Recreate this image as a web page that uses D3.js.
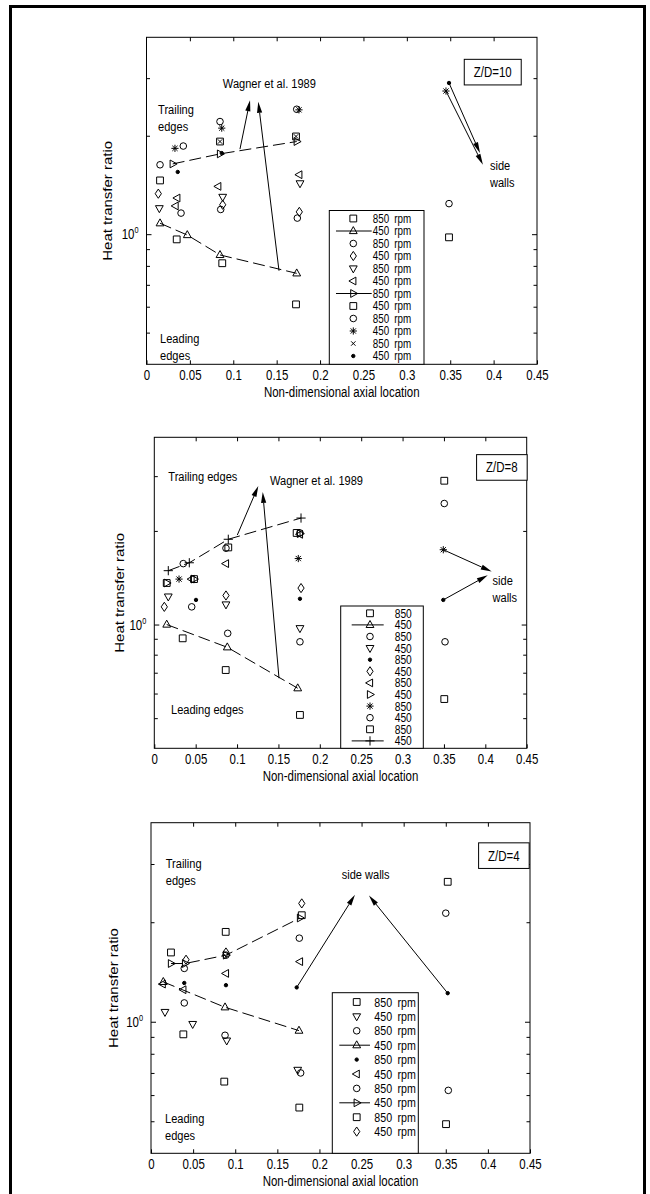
<!DOCTYPE html>
<html>
<head>
<meta charset="utf-8">
<script src="https://cdn.jsdelivr.net/npm/d3@7"></script>
<style>
  body { margin: 0; background: #fff; }
  text { font-family: "Liberation Sans", Arial, sans-serif; fill: #000; }
</style>
</head>
<body>
<svg width="650" height="1194"></svg>
<script>
// shared axis ticks
const xTicks = [0, 0.05, 0.1, 0.15, 0.2, 0.25, 0.3, 0.35, 0.4, 0.45];
const yMinorTicks = [0.5, 0.6, 0.7, 0.8, 0.9, 2, 3];

// ---- Z/D = 10 ----
const zd10Symbols = ["square", "triangle-up", "circle", "diamond", "triangle-down", "triangle-left",
                     "triangle-right", "square", "circle", "star", "cross", "point"];
const zd10Labels = ["850 rpm", "450 rpm", "850 rpm", "450 rpm", "850 rpm", "450 rpm",
                    "850 rpm", "450 rpm", "850 rpm", "450 rpm", "850 rpm", "450 rpm"];
const zd10Dashed = [false, true, false, false, false, false, true, false, false, false, false, false];
const zd10Values = [
  [[0.0348, 0.964], [0.0873, 0.815], [0.1723, 0.61], [0.3486, 0.978]],
  [[0.0156, 1.08], [0.047, 0.994], [0.0847, 0.864], [0.1731, 0.759]],
  [[0.0398, 1.16], [0.0855, 1.19], [0.1738, 1.12], [0.3486, 1.24]],
  [[0.0136, 1.33], [0.0878, 1.23], [0.1761, 1.17]],
  [[0.0148, 1.2], [0.0878, 1.3], [0.1769, 1.43]],
  [[0.0355, 1.29], [0.0335, 1.22], [0.0827, 1.40], [0.1761, 1.52]],
  [[0.0302, 1.64], [0.0847, 1.76], [0.1731, 1.92]],
  [[0.0156, 1.46], [0.0847, 1.92], [0.1723, 1.99]],
  [[0.0156, 1.63], [0.0424, 1.86], [0.0847, 2.21], [0.1731, 2.41]],
  [[0.0328, 1.83], [0.0867, 2.11], [0.1757, 2.40], [0.3451, 2.74]],
  [[0.0847, 1.92], [0.1723, 1.99]],
  [[0.036, 1.55], [0.0867, 1.77], [0.3486, 2.9]]
];
const zd10Notes = [
  { lines: ["Trailing", "edges"], at: [0.0133, 2.33] },
  { lines: ["Wagner et al. 1989"], at: [0.088, 2.8] },
  { lines: ["Leading", "edges"], at: [0.0156, 0.465] },
  { lines: ["side", "walls"], at: [0.3958, 1.57] }
];
const zd10Arrows = [
  [[0.1077, 1.82], [0.1193, 2.57]],
  [[0.1527, 0.773], [0.1288, 2.54]],
  [[0.3486, 2.9], [0.3843, 1.77]],
  [[0.3451, 2.74], [0.3877, 1.63]]
];

// ---- Z/D = 8 ----
const zd8Symbols = ["square", "triangle-up", "circle", "triangle-down", "point", "diamond",
                    "triangle-left", "triangle-right", "star", "circle", "square", "plus"];
const zd8Labels = ["850", "450", "850", "450", "850", "450", "850", "450", "850", "450", "850", "450"];
const zd8Dashed = [false, true, false, false, false, false, false, false, false, false, false, true];
const zd8Values = [
  [[0.0343, 0.903], [0.0863, 0.714], [0.176, 0.512], [0.3504, 0.576]],
  [[0.015, 1.0], [0.0882, 0.845], [0.1733, 0.624]],
  [[0.0452, 1.14], [0.0887, 0.937], [0.176, 0.88], [0.3513, 0.88]],
  [[0.0169, 1.23], [0.0866, 1.16], [0.176, 0.973]],
  [[0.0504, 1.2], [0.176, 1.21], [0.3492, 1.2]],
  [[0.0121, 1.14], [0.0866, 1.24], [0.1773, 1.31]],
  [[0.045, 1.40], [0.0866, 1.57], [0.176, 1.95]],
  [[0.015, 1.36], [0.048, 1.40], [0.176, 1.96]],
  [[0.0299, 1.40], [0.174, 1.63], [0.3492, 1.74]],
  [[0.035, 1.57], [0.0866, 1.76], [0.176, 1.97], [0.3504, 2.45]],
  [[0.015, 1.36], [0.048, 1.40], [0.0894, 1.77], [0.172, 1.97], [0.3504, 2.9]],
  [[0.0169, 1.49], [0.0423, 1.58], [0.0894, 1.88], [0.1773, 2.2]]
];
const zd8Notes = [
  { lines: ["Trailing edges"], at: [0.0169, 2.9] },
  { lines: ["Wagner et al. 1989"], at: [0.1398, 2.81] },
  { lines: ["Leading edges"], at: [0.0202, 0.516] },
  { lines: ["side", "walls"], at: [0.4087, 1.34] }
];
const zd8Arrows = [
  [[0.1003, 1.94], [0.1257, 2.79]],
  [[0.1507, 0.672], [0.131, 2.67]],
  [[0.3492, 1.74], [0.4077, 1.48]],
  [[0.3492, 1.2], [0.4029, 1.44]]
];

// ---- Z/D = 4 ----
const zd4Symbols = ["square", "triangle-down", "circle", "triangle-up", "point", "triangle-left",
                    "circle", "triangle-right", "square", "diamond"];
const zd4Labels = ["850 rpm", "450 rpm", "850 rpm", "450 rpm", "850 rpm", "450 rpm",
                   "850 rpm", "450 rpm", "850 rpm", "450 rpm"];
const zd4Dashed = [false, false, false, true, false, false, false, true, false, false];
const zd4Values = [
  [[0.0384, 0.916], [0.087, 0.659], [0.1761, 0.55], [0.3503, 0.49]],
  [[0.0166, 1.07], [0.0495, 0.984], [0.0899, 0.877], [0.1742, 0.715]],
  [[0.0395, 1.14], [0.0879, 0.91], [0.1777, 0.70], [0.353, 0.62]],
  [[0.0146, 1.32], [0.0879, 1.106], [0.1757, 0.94]],
  [[0.0395, 1.31], [0.089, 1.29], [0.173, 1.27], [0.3523, 1.22]],
  [[0.0139, 1.30], [0.0384, 1.25], [0.089, 1.40], [0.1769, 1.52]],
  [[0.0395, 1.45], [0.089, 1.59], [0.1761, 1.79], [0.35, 2.13]],
  [[0.0237, 1.50], [0.0404, 1.50], [0.089, 1.59], [0.1769, 2.06]],
  [[0.0237, 1.62], [0.0887, 1.87], [0.179, 2.10], [0.3523, 2.65]],
  [[0.0416, 1.54], [0.089, 1.62], [0.179, 2.28]]
];
const zd4Notes = [
  { lines: ["Trailing", "edges"], at: [0.0175, 2.92] },
  { lines: ["side walls"], at: [0.2264, 2.70] },
  { lines: ["Leading", "edges"], at: [0.0166, 0.494] }
];
const zd4Arrows = [
  [[0.173, 1.27], [0.2422, 2.42]],
  [[0.3523, 1.22], [0.2588, 2.41]]
];

const panels = [
  { left: 146.5, right: 537, top: 37.3, bottom: 364.3, yLabelX: 108,
    values: zd10Values, symbols: zd10Symbols, labels: zd10Labels, dashed: zd10Dashed,
    notes: zd10Notes, arrows: zd10Arrows, tag: "Z/D=10", tagAt: [0.399, 3.13],
    legend: { x: 329.3, y: 210.5, w: 94.7, row0: 8, step: 12.5, mark: 24, l0: 6.7, l1: 42.4, tx: 43.4, fs: 12, dash: null } },
  { left: 154.3, right: 526.7, top: 437.3, bottom: 748.3, yLabelX: 120,
    values: zd8Values, symbols: zd8Symbols, labels: zd8Labels, dashed: zd8Dashed,
    notes: zd8Notes, arrows: zd8Arrows, tag: "Z/D=8", tagAt: [0.42, 3.2],
    legend: { x: 340.7, y: 606, w: 82.6, row0: 7.3, step: 11.6, mark: 29.3, l0: 11, l1: 47, tx: 54, fs: 12.5, dash: "32,4" } },
  { left: 151, right: 530, top: 822.7, bottom: 1153.3, yLabelX: 114,
    values: zd4Values, symbols: zd4Symbols, labels: zd4Labels, dashed: zd4Dashed,
    notes: zd4Notes, arrows: zd4Arrows, tag: "Z/D=4", tagAt: [0.419, 3.18],
    legend: { x: 332.3, y: 992.7, w: 86, row0: 9.3, step: 14.4, mark: 24.4, l0: 7, l1: 37.7, tx: 42, fs: 13, dash: null } }
];

const svg = d3.select("svg");
const dash = "12,5";
const SX = 0.82;   // the figure's lettering is narrow

function ntext(parent, x, y, size) {
  return parent.append("text")
    .attr("transform", `translate(${x},${y}) scale(${SX},1)`)
    .attr("font-size", size);
}

function symbolPath(type) {
  switch (type) {
    case "square": return "M-3.4,-3.4H3.4V3.4H-3.4Z";
    case "circle": return "M3.3,0A3.3,3.3 0 1,1 -3.3,0A3.3,3.3 0 1,1 3.3,0Z";
    case "triangle-up": return "M0,-4.4L3.9,2.6L-3.9,2.6Z";
    case "triangle-down": return "M0,4.4L3.9,-2.6L-3.9,-2.6Z";
    case "triangle-left": return "M-4.4,0L2.6,-3.9L2.6,3.9Z";
    case "triangle-right": return "M4.4,0L-2.6,-3.9L-2.6,3.9Z";
    case "diamond": return "M0,-4.6L3.1,0L0,4.6L-3.1,0Z";
    case "star": return "M-3.6,0H3.6M0,-3.6V3.6M-2.6,-2.6L2.6,2.6M-2.6,2.6L2.6,-2.6";
    case "plus": return "M-4.6,0H4.6M0,-4.6V4.6";
    case "cross": return "M-2.2,-2.2L2.2,2.2M-2.2,2.2L2.2,-2.2";
    case "point": return "M1.7,0A1.7,1.7 0 1,1 -1.7,0A1.7,1.7 0 1,1 1.7,0Z";
  }
}

function drawMarker(g, type, px, py) {
  g.append("path")
    .attr("transform", `translate(${px},${py})`)
    .attr("d", symbolPath(type))
    .attr("fill", type === "point" ? "#000" : "none")
    .attr("stroke", "#000")
    .attr("stroke-width", 1);
}

function drawArrow(g, x1, y1, x2, y2) {
  const a = Math.atan2(y2 - y1, x2 - x1);
  const len = 11, half = 2.6;
  const bx = x2 - len * Math.cos(a), by = y2 - len * Math.sin(a);
  g.append("line")
    .attr("x1", x1).attr("y1", y1).attr("x2", bx).attr("y2", by)
    .attr("stroke", "#000").attr("stroke-width", 1);
  g.append("path")
    .attr("d", `M${x2},${y2}L${bx - half * Math.sin(a)},${by + half * Math.cos(a)}` +
               `L${bx + half * Math.sin(a)},${by - half * Math.cos(a)}Z`)
    .attr("fill", "#000");
}

// outer frame
svg.append("rect")
  .attr("x", 10.5).attr("y", 6.5).attr("width", 634).attr("height", 1200)
  .attr("fill", "none").attr("stroke", "#000").attr("stroke-width", 3);

panels.forEach(p => {
  const x = d3.scaleLinear().domain([0, 0.45]).range([p.left, p.right]);
  const y = d3.scaleLog().domain([0.4, 4]).range([p.bottom, p.top]);
  const g = svg.append("g");

  // box
  g.append("rect")
    .attr("x", p.left).attr("y", p.top)
    .attr("width", p.right - p.left).attr("height", p.bottom - p.top)
    .attr("fill", "none").attr("stroke", "#000").attr("stroke-width", 1);

  // x axes (ticks inside)
  g.append("g")
    .attr("transform", `translate(0,${p.bottom})`)
    .call(d3.axisBottom(x).tickValues(xTicks).tickSizeInner(-4).tickSizeOuter(0)
      .tickPadding(6).tickFormat(d => String(d)))
    .call(a => a.select(".domain").remove())
    .call(a => a.selectAll("text").attr("font-size", 14).attr("font-family", null)
      .attr("transform", `scale(${SX},1)`));
  g.append("g")
    .attr("transform", `translate(0,${p.top})`)
    .call(d3.axisTop(x).tickValues(xTicks.slice(1, -1)).tickSizeInner(-4).tickSizeOuter(0).tickFormat(""))
    .call(a => a.select(".domain").remove());

  // y axes, log minor ticks plus 10^0
  [[d3.axisLeft, p.left], [d3.axisRight, p.right]].forEach(([ax, pos]) => {
    g.append("g")
      .attr("transform", `translate(${pos},0)`)
      .call(ax(y).tickValues(yMinorTicks).tickSizeInner(-3.5).tickSizeOuter(0).tickFormat(""))
      .call(a => a.select(".domain").remove());
    g.append("g")
      .attr("transform", `translate(${pos},0)`)
      .call(ax(y).tickValues([1]).tickSizeInner(-5).tickSizeOuter(0).tickFormat(""))
      .call(a => a.select(".domain").remove());
  });
  const lab = ntext(g, p.left - 8, y(1) + 5, 14).attr("text-anchor", "end");
  lab.append("tspan").text("10");
  lab.append("tspan").attr("font-size", 9).attr("dy", -6).text("0");

  // axis titles
  ntext(g, (p.left + p.right) / 2, p.bottom + 33, 14)
    .attr("text-anchor", "middle")
    .text("Non-dimensional axial location");
  g.append("text")
    .attr("transform", `translate(${p.yLabelX},${(p.top + p.bottom) / 2}) rotate(-90) scale(1,${SX})`)
    .attr("text-anchor", "middle").attr("font-size", 15).attr("dy", "0.35em")
    .text("Heat transfer ratio");

  // dashed lines
  const line = d3.line().x(d => x(d[0])).y(d => y(d[1]));
  p.values.forEach((s, i) => {
    if (!p.dashed[i]) return;
    g.append("path").attr("d", line(s))
      .attr("fill", "none").attr("stroke", "#000").attr("stroke-width", 1)
      .attr("stroke-dasharray", dash);
  });

  // markers
  p.values.forEach((s, i) => {
    s.forEach(d => drawMarker(g, p.symbols[i], x(d[0]), y(d[1])));
  });

  // arrows
  p.arrows.forEach(([a, b]) => drawArrow(g, x(a[0]), y(a[1]), x(b[0]), y(b[1])));

  // annotations
  p.notes.forEach(n => {
    const t = ntext(g, x(n.at[0]), y(n.at[1]), 13.5);
    n.lines.forEach((s, k) => t.append("tspan").attr("x", 0).attr("dy", k ? 17 : 0).text(s));
  });

  // Z/D tag in a box
  const tg = g.append("g").attr("transform", `translate(${x(p.tagAt[0])},${y(p.tagAt[1])})`);
  const tagText = ntext(tg, 0, 0, 14).attr("text-anchor", "middle").attr("dy", "0.36em").text(p.tag);
  const tw = tagText.node().getComputedTextLength() * SX + 19;
  tg.insert("rect", "text")
    .attr("x", -tw / 2).attr("y", -12.8).attr("width", tw).attr("height", 25.6)
    .attr("fill", "#fff").attr("stroke", "#000").attr("stroke-width", 1);

  // legend
  const L = p.legend;
  const lg = g.append("g").attr("transform", `translate(${L.x},${L.y})`);
  lg.append("rect")
    .attr("width", L.w).attr("height", p.bottom - L.y)
    .attr("fill", "#fff").attr("stroke", "#000").attr("stroke-width", 1);
  p.labels.forEach((lbl, i) => {
    const ry = L.row0 + i * L.step;
    if (p.dashed[i]) {
      lg.append("line").attr("x1", L.l0).attr("x2", L.l1).attr("y1", ry).attr("y2", ry)
        .attr("stroke", "#000").attr("stroke-width", 1)
        .attr("stroke-dasharray", L.dash);
    }
    drawMarker(lg, p.symbols[i], L.mark, ry);
    ntext(lg, L.tx, ry, L.fs).attr("dy", "0.36em").attr("word-spacing", 3).text(lbl);
  });
});
</script>
</body>
</html>
